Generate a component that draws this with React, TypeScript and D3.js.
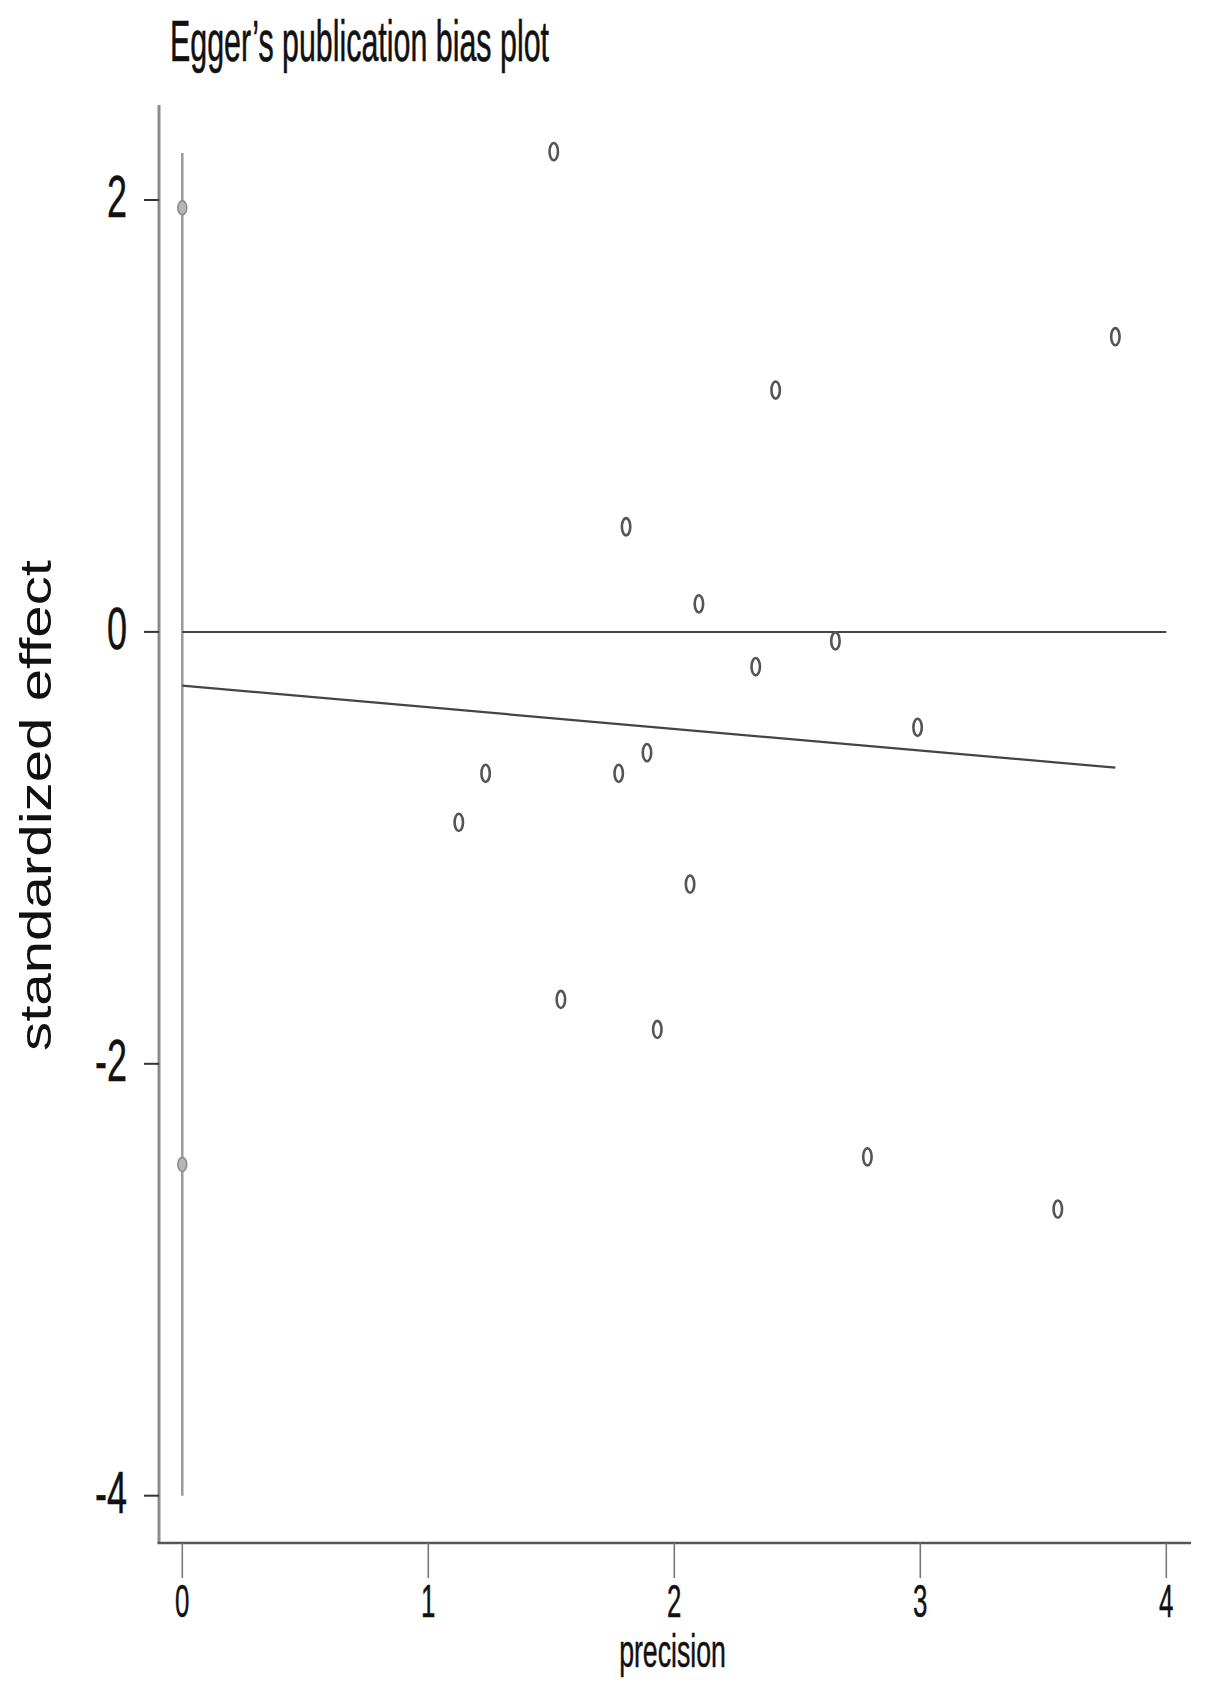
import React from "react";
import * as d3 from "d3";

// ---- data ----
const studyPrecision = [1.51, 3.793, 2.412, 1.804, 2.1, 2.655, 2.331, 2.989, 1.889, 1.233, 1.774, 1.124, 2.064, 1.539, 1.931, 2.785, 3.559];
const studyEffect = [2.224, 1.367, 1.12, 0.487, 0.13, -0.042, -0.161, -0.442, -0.559, -0.655, -0.655, -0.882, -1.168, -1.702, -1.841, -2.431, -2.673];
const interceptCI = [-4.0, 2.218];
const interceptMarks = [1.964, -2.466];
const regIntercept = -0.249;
const regSlope = -0.1001;
const regRange = [0, 3.793];
const xTicks = [0, 1, 2, 3, 4];
const yTicks = [2, 0, -2, -4];
const zeroLineRange = [0, 4];

const W = 1205;
const H = 1690;
const font = "'Liberation Sans', Arial, sans-serif";

export default function App() {
  const x = d3.scaleLinear().domain([0, 4]).range([182.3, 1166.3]);
  const y = d3.scaleLinear().domain([-4, 2]).range([1495.7, 200]);
  const axisX = 159;
  const axisY = 1543;
  const axisTop = 105;
  const axisRight = 1191;

  const line = d3
    .line<number>()
    .x((d) => x(d))
    .y((d) => y(regIntercept + regSlope * d));

  return (
    <svg
      width={W}
      height={H}
      viewBox={`0 0 ${W} ${H}`}
      style={{ position: "absolute", left: 0, top: 0, background: "#fff" }}
    >
      <rect x={0} y={0} width={W} height={H} fill="#fff" />
      {/* title */}
      <text
        x={170}
        y={61}
        fontFamily={font}
        fontSize={57}
        fill="#111"
        stroke="#111"
        strokeWidth={0.6}
        textLength={379}
        lengthAdjust="spacingAndGlyphs"
      >
        Egger’s publication bias plot
      </text>

      {/* y axis */}
      <line x1={axisX} x2={axisX} y1={axisTop} y2={axisY} stroke="#8c8c8c" strokeWidth={3} />
      {yTicks.map((t) => (
        <g key={"yt" + t}>
          <line x1={144} x2={axisX} y1={y(t)} y2={y(t)} stroke="#333" strokeWidth={2} />
          <text
            transform={`translate(127,${y(t) + 17}) scale(0.6,1)`}
            textAnchor="end"
            fontFamily={font}
            fontSize={60}
            fill="#111"
            stroke="#111"
            strokeWidth={0.5}
          >
            {t < 0 ? "-" + Math.abs(t) : String(t)}
          </text>
        </g>
      ))}
      <text
        transform={`translate(51,${805.5}) rotate(-90)`}
        textAnchor="middle"
        fontFamily={font}
        fontSize={44}
        fill="#111"
        textLength={491}
        lengthAdjust="spacingAndGlyphs"
      >
        standardized effect
      </text>

      {/* x axis */}
      <line x1={axisX - 1.5} x2={axisRight} y1={axisY} y2={axisY} stroke="#555" strokeWidth={2.5} />
      {xTicks.map((t) => (
        <g key={"xt" + t}>
          <line x1={x(t)} x2={x(t)} y1={axisY} y2={1578} stroke="#777" strokeWidth={1.6} />
          <text
            transform={`translate(${x(t)},1617) scale(0.55,1)`}
            textAnchor="middle"
            fontFamily={font}
            fontSize={47}
            fill="#111"
            stroke="#111"
            strokeWidth={0.5}
          >
            {String(t)}
          </text>
        </g>
      ))}
      <text
        transform={`translate(672.5,1667) scale(0.58,1)`}
        textAnchor="middle"
        fontFamily={font}
        fontSize={46}
        fill="#111"
        stroke="#111"
        strokeWidth={0.5}
      >
        precision
      </text>

      {/* intercept CI */}
      <line
        x1={x(0)}
        x2={x(0)}
        y1={y(interceptCI[1])}
        y2={y(interceptCI[0])}
        stroke="#9a9a9a"
        strokeWidth={2.5}
      />
      {interceptMarks.map((v, i) => (
        <ellipse key={"im" + i} cx={x(0)} cy={y(v)} rx={4.5} ry={7} fill="#b5b5b5" stroke="#8a8a8a" strokeWidth={1.5} />
      ))}

      {/* zero line */}
      <line
        x1={x(zeroLineRange[0])}
        x2={x(zeroLineRange[1])}
        y1={y(0)}
        y2={y(0)}
        stroke="#444"
        strokeWidth={2}
      />

      {/* regression line */}
      <path d={line(regRange) || ""} fill="none" stroke="#444" strokeWidth={2.2} />

      {/* studies */}
      {studyPrecision.map((p, i) => (
        <ellipse
          key={"s" + i}
          cx={x(p)}
          cy={y(studyEffect[i])}
          rx={4.2}
          ry={8.6}
          fill="none"
          stroke="#555"
          strokeWidth={2.6}
        />
      ))}
    </svg>
  );
}
